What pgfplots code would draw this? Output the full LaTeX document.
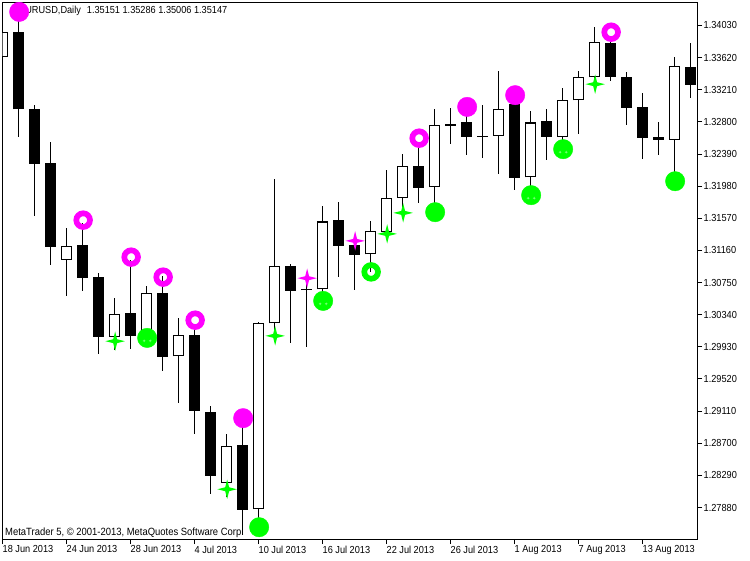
\documentclass[border=0pt]{standalone}
\usepackage{fontspec}
\setmainfont[FakeStretch=0.9]{Liberation Sans}
\usepackage{pgfplots}
\usepackage{pgfplotstable}
\pgfplotsset{compat=1.18}

% i open high low close
\pgfplotstableread{
i o h l c
0 1.33622 1.33941 1.33622 1.33941
4 1.31044 1.31444 1.30580 1.31218
7 1.30057 1.30547 1.29887 1.30355
9 1.30066 1.30704 1.29951 1.30611
11 1.29807 1.30304 1.29215 1.30075
14 1.28199 1.28815 1.28012 1.28671
16 1.27855 1.30241 1.27718 1.30228
17 1.30228 1.32069 1.30015 1.30955
20 1.30662 1.31733 1.30576 1.31529
23 1.31108 1.31533 1.30886 1.31402
24 1.31397 1.32184 1.31342 1.31835
25 1.31835 1.32384 1.31648 1.32231
27 1.31963 1.32962 1.31737 1.32754
31 1.32626 1.33447 1.32137 1.32958
33 1.32091 1.32933 1.31929 1.32792
35 1.32609 1.33230 1.32541 1.33073
36 1.33073 1.33447 1.32647 1.33367
37 1.33367 1.34004 1.33268 1.33813
42 1.32575 1.33625 1.32082 1.33507
}\upbars

\pgfplotstableread{
i o h l c
1 1.33941 1.34136 1.32609 1.32958
2 1.32958 1.33013 1.31597 1.32264
3 1.32269 1.32541 1.30972 1.31205
5 1.31227 1.31505 1.30644 1.30810
6 1.30819 1.30870 1.29840 1.30057
8 1.30368 1.31036 1.29904 1.30070
10 1.30611 1.30831 1.29623 1.29802
12 1.30075 1.30225 1.28819 1.29113
13 1.29105 1.29169 1.28054 1.28283
15 1.28675 1.28930 1.27527 1.27850
18 1.30955 1.30993 1.29980 1.30644
19 1.30668 1.30742 1.29929 1.30652
21 1.31546 1.31772 1.30822 1.31218
22 1.31227 1.31291 1.30657 1.31103
26 1.32231 1.32503 1.31767 1.31958
28 1.32768 1.32975 1.32519 1.32753
29 1.32796 1.32949 1.32379 1.32609
30 1.32624 1.33013 1.32341 1.32609
32 1.33026 1.33077 1.31932 1.32085
34 1.32805 1.32970 1.32315 1.32609
38 1.33804 1.33893 1.33323 1.33374
39 1.33367 1.33434 1.32758 1.32979
40 1.32984 1.33166 1.32328 1.32596
41 1.32605 1.32792 1.32375 1.32575
43 1.33494 1.33804 1.33106 1.33272
}\downbars

\definecolor{mtmag}{HTML}{FF00FF}
\definecolor{mtgreen}{HTML}{00FF00}
\definecolor{mtspeck}{HTML}{B0FFB0}

\pgfdeclareplotmark{fourstar}{%
  \pgfpathmoveto{\pgfpoint{0pt}{\pgfplotmarksize}}%
  \pgfpathlineto{\pgfpoint{0.2\pgfplotmarksize}{0.2\pgfplotmarksize}}%
  \pgfpathlineto{\pgfpoint{\pgfplotmarksize}{0pt}}%
  \pgfpathlineto{\pgfpoint{0.2\pgfplotmarksize}{-0.2\pgfplotmarksize}}%
  \pgfpathlineto{\pgfpoint{0pt}{-\pgfplotmarksize}}%
  \pgfpathlineto{\pgfpoint{-0.2\pgfplotmarksize}{-0.2\pgfplotmarksize}}%
  \pgfpathlineto{\pgfpoint{-\pgfplotmarksize}{0pt}}%
  \pgfpathlineto{\pgfpoint{-0.2\pgfplotmarksize}{0.2\pgfplotmarksize}}%
  \pgfpathclose\pgfusepathqfill}

\pgfplotsset{
  solidbar/.style={draw=none, mark=none, forget plot,
    error bars/.cd, y dir=plus, y explicit, error mark=none,
    error bar style={line width=#1, solid}},
  wick/.style={draw=none, mark=none, forget plot,
    error bars/.cd, y dir=both, y explicit, error mark=none,
    error bar style={line width=1pt, draw=black, solid}},
}

\begin{document}
\begin{tikzpicture}
\useasboundingbox (0,0) rectangle (750pt,560pt);
\node[anchor=base west, inner sep=0pt, font=\fontsize{10.2pt}{12pt}\selectfont] at (19pt,546pt) {EURUSD,Daily\hspace{6pt}1.35151 1.35286 1.35006 1.35147};
\node[anchor=base west, inner sep=0pt, font=\fontsize{10.5pt}{12pt}\selectfont] at (5pt,24.5pt) {MetaTrader 5, © 2001-2013, MetaQuotes Software Corp.};
\begin{axis}[
    at={(2.5pt,20.5pt)}, anchor=south west,
    scale only axis, width=695pt, height=537pt,
    xmin=0, xmax=43.4375,
    ymin=1.27472, ymax=1.34323,
    axis line style={line width=1pt},
    tick style={line width=1pt, black},
    major tick length=4.5pt,
    tick align=outside,
    xtick pos=bottom, ytick pos=right,
    xtick={0,4,...,40},
    xticklabels={18 Jun 2013,24 Jun 2013,28 Jun 2013,4 Jul 2013,10 Jul 2013,16 Jul 2013,22 Jul 2013,26 Jul 2013,1 Aug 2013,7 Aug 2013,13 Aug 2013},
    xticklabel style={anchor=north west, inner sep=0pt, xshift=0pt, yshift=-1.5pt, font=\fontsize{10.2pt}{12pt}\selectfont},
    ytick={1.27880,1.28290,1.28700,1.29110,1.29520,1.29930,1.30340,1.30750,1.31160,1.31570,1.31980,1.32390,1.32800,1.33210,1.33620,1.34030},
    yticklabel style={anchor=west, inner sep=0pt, xshift=1.5pt, font=\fontsize{10.2pt}{12pt}\selectfont,
      /pgf/number format/.cd, fixed, fixed zerofill, precision=5, assume math mode=true},
    scaled y ticks=false,
  ]
  % wicks
  \addplot[wick] table[x=i, y=o, y error plus expr=\thisrow{h}-\thisrow{o}, y error minus expr=\thisrow{o}-\thisrow{l}] {\upbars};
  \addplot[wick] table[x=i, y=o, y error plus expr=\thisrow{h}-\thisrow{o}, y error minus expr=\thisrow{o}-\thisrow{l}] {\downbars};
  % bodies
  \addplot[solidbar=11pt] table[x=i, y=c, y error plus expr=\thisrow{o}-\thisrow{c}] {\downbars};
  \addplot[solidbar=10.5pt] table[x=i, y=o, y error plus expr=\thisrow{c}-\thisrow{o}] {\upbars};
  \addplot[draw=none, mark=none, forget plot,
    error bars/.cd, y dir=plus, y explicit, error mark=none,
    error bar style={line width=8.5pt, draw=white, solid}]
    table[x=i, y expr=\thisrow{o}+0.000128, y error plus expr=\thisrow{c}-\thisrow{o}-0.000256] {\upbars};

  % filled circles
  \addplot[only marks, mark=*, mark size=9.7pt, color=mtmag, mark options={draw=none, fill=mtmag}] coordinates {
    (1.04,1.34203) (15.04,1.29020) (29.04,1.32991) (32.04,1.33141)};
  \addplot[only marks, mark=*, mark size=9.7pt, color=mtgreen, mark options={draw=none, fill=mtgreen}] coordinates {
    (9.04,1.30044) (16.04,1.27629) (20.04,1.30516) (27.04,1.31648) (33.04,1.31865) (35.04,1.32452) (42.04,1.32043)};
  % pale specks inside some of the green circles
  \addplot[only marks, mark=fourstar, mark size=1.6pt, color=mtspeck] coordinates {
    (8.85,1.30006) (9.23,1.30006) (19.85,1.30478) (20.23,1.30478)
    (32.85,1.31827) (33.23,1.31827) (34.85,1.32414) (35.23,1.32414)};
  % rings
  \addplot[only marks, mark=o, mark size=6.85pt, color=mtmag, mark options={draw=mtmag, line width=5.7pt}] coordinates {
    (5.04,1.31546) (8.04,1.31074) (10.04,1.30819) (12.04,1.30270) (26.04,1.32592) (38.04,1.33944)};
  \addplot[only marks, mark=o, mark size=6.85pt, color=mtgreen, mark options={draw=mtgreen, line width=5.7pt}] coordinates {
    (23.04,1.30886)};
  % stars
  \addplot[only marks, mark=fourstar, mark size=9.7pt, color=mtmag] coordinates {
    (19.04,1.30806) (22.04,1.31282)};
  \addplot[only marks, mark=fourstar, mark size=9.7pt, color=mtgreen] coordinates {
    (7.04,1.30002) (14.04,1.28113) (17.04,1.30070) (24.04,1.31371) (25.04,1.31639) (37.04,1.33281)};
\end{axis}
\end{tikzpicture}
\end{document}
